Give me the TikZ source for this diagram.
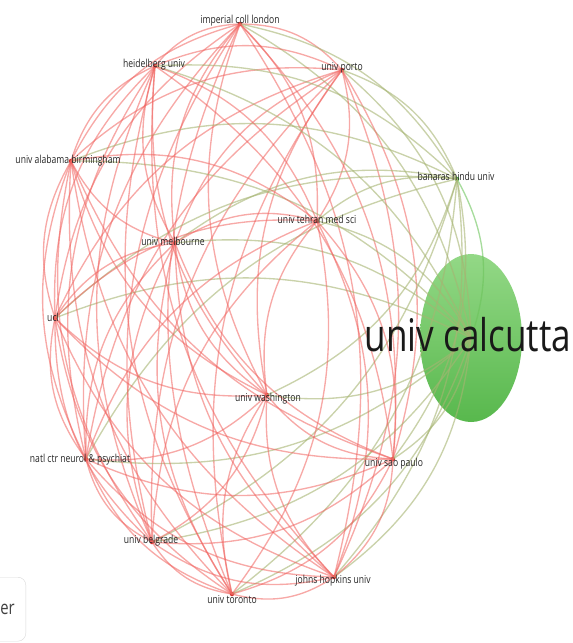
\documentclass[tikz,border=0pt]{standalone}
\usepackage{fontspec}
\usepackage{tikz}
\usetikzlibrary{shapes.geometric, positioning}
\newfontfamily\vosfont[FakeStretch=0.78]{Open Sans}
\definecolor{clusterred}{HTML}{D0312D}
\definecolor{clustergreen}{HTML}{3EA63A}
\definecolor{linkred}{HTML}{F0625E}
\definecolor{linkgreen}{HTML}{6DC45C}
\definecolor{linkmix}{HTML}{A6B472}
\definecolor{bubbletop}{HTML}{93D886}
\definecolor{bubblebottom}{HTML}{58B84D}
\definecolor{labelgray}{HTML}{262626}
\tikzset{
  dotr/.style={circle, fill=clusterred, inner sep=0pt, minimum size=4.5pt},
  dotg/.style={circle, fill=clustergreen, inner sep=0pt, minimum size=4.5pt},
  bubble/.style={
    ellipse, top color=bubbletop, bottom color=bubblebottom,
    minimum width=102pt, minimum height=168pt, inner sep=0pt
  },
  linkrr/.style={draw=linkred, line width=1.35pt, draw opacity=0.55},
  linkgg/.style={draw=linkgreen, line width=1.35pt, draw opacity=0.6},
  linkrg/.style={draw=linkmix, line width=1.35pt, draw opacity=0.6},
  linkgr/.style={linkrg},
  uni/.style={
    font=\vosfont\fontsize{11}{11}\selectfont, text=labelgray,
    inner sep=0pt, text height=8pt, text depth=2pt
  },
  bigname/.style={font=\vosfont\fontsize{45}{45}\selectfont, text=black!90, inner sep=0pt},
  legendbox/.style={
    draw=black!15, rounded corners=8pt, fill=white, minimum height=64pt,
    inner xsep=11pt, font=\vosfont\fontsize{19}{19}\selectfont, text=black!75
  }
}
% name / x / y / cluster / style
\def\unilist{imperial/240/24/r/dotr, porto/342/70/r/dotr, banaras/457/179/g/dotg,
  calcutta/471/338/g/bubble, saopaulo/393/459/r/dotr, hopkins/334/577/r/dotr,
  toronto/232/594/r/dotr, belgrade/152/542/r/dotr, natl/86/459/r/dotr,
  ucl/55/318/r/dotr, alabama/71/161/r/dotr, heidelberg/155/66/r/dotr,
  tehran/317/221/r/dotr, melbourne/175/243/r/dotr, washington/267/395/r/dotr}

\begin{document}
\begin{tikzpicture}[x=1pt, y=-1pt]
  \useasboundingbox (0,0) rectangle (573,643);
  \clip (0,0) rectangle (573,643);

  \foreach \n/\x/\y/\c/\st in \unilist
    \node[\st] (\n) at (\x,\y) {};

  % links, bent away from the middle of the map
  \foreach \a/\ax/\ay/\ca/\sa [count=\i] in \unilist {
    \foreach \b/\bx/\by/\cb/\sb [count=\j] in \unilist {
      \ifnum\i<\j
        \pgfmathsetmacro\side{((\bx-\ax)/100)*((330-\ay)/100)-((\by-\ay)/100)*((290-\ax)/100)}
        \pgfmathsetmacro\bnd{\side>0 ? 24 : -24}
        \draw[link\ca\cb] (\a.center) to[bend left=\bnd] (\b.center);
      \fi
    }
  }

  \foreach \n/\dx/\dy/\t in {
      imperial/0/-4/imperial coll london, porto/0/-3/univ porto,
      banaras/-1/-2/banaras hindu univ, saopaulo/1/4/univ sao paulo,
      hopkins/-1/3/johns hopkins univ, toronto/0/6/univ toronto,
      belgrade/-1/-2/univ belgrade, natl/-6/0/natl ctr neurol \& psychiat,
      ucl/-2/0/ucl, alabama/-3/-1/univ alabama birmingham,
      heidelberg/-1/-2/heidelberg univ, tehran/0/-1/univ tehran med sci,
      melbourne/-2/-1/univ melbourne, washington/1/3/univ washington}
    \node[uni] (\n-name) at ([shift={(\dx,\dy)}]\n.center) {\t};
  \node[bigname] (calcutta-name) at ([shift={(-3,-3)}]calcutta.center) {univ calcutta};

  \node[legendbox, anchor=north east] (legend) at (26,577) {\hspace*{50pt}er};
\end{tikzpicture}
\end{document}
